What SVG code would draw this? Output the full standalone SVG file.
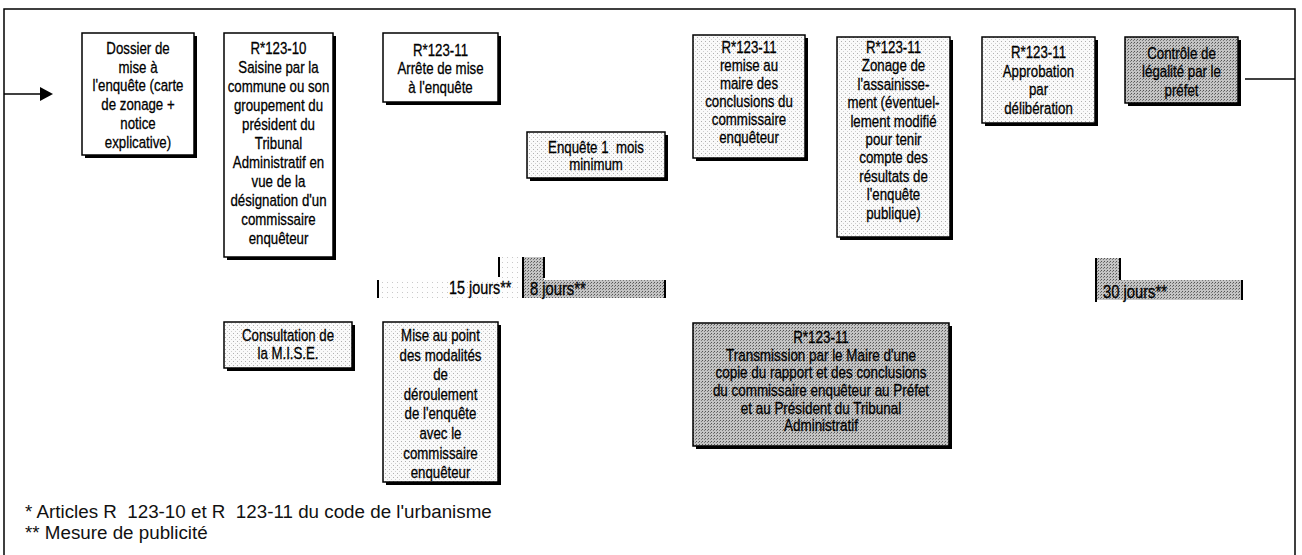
<svg xmlns="http://www.w3.org/2000/svg" width="1302" height="555" viewBox="0 0 1302 555">
<defs>
<pattern id="light" width="4" height="4" patternUnits="userSpaceOnUse">
<rect width="4" height="4" fill="#fafafa"/>
<rect x="1" y="1" width="1" height="1" fill="#b0b0b0"/>
<rect x="3" y="3" width="1" height="1" fill="#d0d0d0"/>
</pattern>
<pattern id="vlight" width="5" height="5" patternUnits="userSpaceOnUse">
<rect width="5" height="5" fill="#fdfdfd"/>
<rect x="2" y="2" width="1" height="1" fill="#c8c8c8"/>
</pattern>
<pattern id="dark" width="3" height="3" patternUnits="userSpaceOnUse">
<rect width="3" height="3" fill="#c4c4c4"/>
<rect x="0" y="0" width="1" height="1" fill="#555"/>
<rect x="2" y="1" width="1" height="1" fill="#7a7a7a"/>
</pattern>
</defs>
<style>
.t{font-family:"Liberation Sans",Arial,sans-serif;font-size:17px;text-anchor:middle;fill:#000;stroke:#000;stroke-width:0.3}
.s{font-family:"Liberation Sans",Arial,sans-serif;font-size:18px;fill:#000;stroke:#000;stroke-width:0.3}
.f{font-family:"Liberation Sans",Arial,sans-serif;font-size:18.8px;fill:#111}
.b{stroke:#000;stroke-width:1.5}
.w{fill:#fff}
.l{fill:url(#light)}
.d{fill:url(#dark)}
.sh{fill:#000}
.ln{stroke:#000;stroke-width:1.5;fill:none}
.tk{stroke:#000;stroke-width:2}
</style>
<rect width="1302" height="555" fill="#fff"/>
<g id="connectors">
<path class="ln" d="M4 555 V9 H1295 V555"/>
<line class="ln" x1="4" y1="94" x2="44" y2="94"/>
<polygon points="40,87 53,94 40,101" fill="#000"/>
<line class="ln" x1="1245" y1="79" x2="1295" y2="79"/>
</g>
<g id="dossier">
<rect class="sh" x="85" y="36" width="112" height="122"/>
<rect class="b w" x="82" y="33" width="112" height="122"/>
<text class="t" transform="translate(138 0) scale(.78 1)"><tspan x="0" y="54">Dossier de</tspan><tspan x="0" y="73">mise à</tspan><tspan x="0" y="91">l'enquête (carte</tspan><tspan x="0" y="110">de zonage +</tspan><tspan x="0" y="129">notice</tspan><tspan x="0" y="148">explicative)</tspan></text>
</g>
<g id="saisine">
<rect class="sh" x="227" y="36" width="109" height="224"/>
<rect class="b w" x="224" y="33" width="109" height="224"/>
<text class="t" transform="translate(278.5 0) scale(.78 1)"><tspan x="0" y="54">R*123-10</tspan><tspan x="0" y="73">Saisine par la</tspan><tspan x="0" y="92">commune ou son</tspan><tspan x="0" y="111">groupement du</tspan><tspan x="0" y="130">président du</tspan><tspan x="0" y="149">Tribunal</tspan><tspan x="0" y="168">Administratif en</tspan><tspan x="0" y="187">vue de la</tspan><tspan x="0" y="206">désignation d'un</tspan><tspan x="0" y="225">commissaire</tspan><tspan x="0" y="244">enquêteur</tspan></text>
</g>
<g id="arrete">
<rect class="sh" x="386" y="36" width="115" height="69"/>
<rect class="b w" x="383" y="33" width="115" height="69"/>
<text class="t" transform="translate(440.5 0) scale(.78 1)"><tspan x="0" y="56">R*123-11</tspan><tspan x="0" y="74">Arrête de mise</tspan><tspan x="0" y="93">à l'enquête</tspan></text>
</g>
<g id="enquete">
<rect class="sh" x="530" y="135" width="138" height="46"/>
<rect class="b l" x="527" y="132" width="138" height="46"/>
<text class="t" xml:space="preserve" transform="translate(596 0) scale(.78 1)"><tspan x="0" y="153">Enquête 1  mois</tspan><tspan x="0" y="170">minimum</tspan></text>
</g>
<g id="remise">
<rect class="sh" x="696" y="38" width="112" height="123"/>
<rect class="b l" x="693" y="35" width="112" height="123"/>
<text class="t" transform="translate(749 0) scale(.78 1)"><tspan x="0" y="53">R*123-11</tspan><tspan x="0" y="71">remise au</tspan><tspan x="0" y="89">maire des</tspan><tspan x="0" y="107">conclusions du</tspan><tspan x="0" y="125">commissaire</tspan><tspan x="0" y="143">enquêteur</tspan></text>
</g>
<g id="zonage">
<rect class="sh" x="840" y="40" width="113" height="200"/>
<rect class="b l" x="837" y="37" width="113" height="200"/>
<text class="t" transform="translate(893.5 0) scale(.78 1)"><tspan x="0" y="53">R*123-11</tspan><tspan x="0" y="71.4">Zonage de</tspan><tspan x="0" y="89.8">l'assainisse-</tspan><tspan x="0" y="108.2">ment (éventuel-</tspan><tspan x="0" y="126.6">lement modifié</tspan><tspan x="0" y="145">pour tenir</tspan><tspan x="0" y="163.4">compte des</tspan><tspan x="0" y="181.8">résultats de</tspan><tspan x="0" y="200.2">l'enquête</tspan><tspan x="0" y="218.6">publique)</tspan></text>
</g>
<g id="approbation">
<rect class="sh" x="985" y="40" width="113" height="86"/>
<rect class="b l" x="982" y="37" width="113" height="86"/>
<text class="t" transform="translate(1038.5 0) scale(.78 1)"><tspan x="0" y="58">R*123-11</tspan><tspan x="0" y="77">Approbation</tspan><tspan x="0" y="95">par</tspan><tspan x="0" y="114">délibération</tspan></text>
</g>
<g id="controle">
<rect class="sh" x="1128" y="40" width="113" height="66"/>
<rect class="b d" x="1125" y="37" width="113" height="66"/>
<text class="t" transform="translate(1181.5 0) scale(.78 1)"><tspan x="0" y="59">Contrôle de</tspan><tspan x="0" y="77">légalité par le</tspan><tspan x="0" y="96">préfet</tspan></text>
</g>
<g id="delai15">
<rect x="378" y="280" width="121" height="18" fill="url(#vlight)"/>
<rect x="499" y="257" width="24" height="41" fill="url(#vlight)"/>
<line class="tk" x1="378" y1="280" x2="378" y2="298"/>
<line class="tk" x1="499" y1="257" x2="499" y2="277"/>
<text class="s" transform="translate(449 0) scale(.8 1)" x="0" y="294">15 jours**</text>
</g>
<g id="delai8">
<rect x="523" y="257" width="21" height="41" fill="url(#dark)"/>
<rect x="544" y="280" width="121" height="18" fill="url(#dark)"/>
<line class="tk" x1="523" y1="257" x2="523" y2="298"/>
<line class="tk" x1="544" y1="257" x2="544" y2="278"/>
<line class="tk" x1="665" y1="280" x2="665" y2="298"/>
<text class="s" transform="translate(530 0) scale(.82 1)" x="0" y="295">8 jours**</text>
</g>
<g id="delai30">
<rect x="1096" y="258" width="24" height="42" fill="url(#dark)"/>
<rect x="1120" y="280" width="122" height="20" fill="url(#dark)"/>
<line class="tk" x1="1096" y1="258" x2="1096" y2="302"/>
<line class="tk" x1="1120" y1="258" x2="1120" y2="280"/>
<line class="tk" x1="1242" y1="280" x2="1242" y2="300"/>
<text class="s" transform="translate(1103 0) scale(.82 1)" x="0" y="298">30 jours**</text>
</g>
<g id="consultation">
<rect class="sh" x="227" y="325" width="128" height="46"/>
<rect class="b l" x="224" y="322" width="128" height="46"/>
<text class="t" transform="translate(288 0) scale(.78 1)"><tspan x="0" y="341">Consultation de</tspan><tspan x="0" y="359">la M.I.S.E.</tspan></text>
</g>
<g id="miseaupoint">
<rect class="sh" x="386" y="325" width="115" height="160"/>
<rect class="b l" x="383" y="322" width="115" height="160"/>
<text class="t" transform="translate(440.5 0) scale(.78 1)"><tspan x="0" y="341">Mise au point</tspan><tspan x="0" y="360.6">des modalités</tspan><tspan x="0" y="380.2">de</tspan><tspan x="0" y="399.8">déroulement</tspan><tspan x="0" y="419.4">de l'enquête</tspan><tspan x="0" y="439">avec le</tspan><tspan x="0" y="458.6">commissaire</tspan><tspan x="0" y="478.2">enquêteur</tspan></text>
</g>
<g id="transmission">
<rect class="sh" x="696" y="326" width="256" height="123"/>
<rect class="b d" x="693" y="323" width="256" height="123"/>
<text class="t" transform="translate(821 0) scale(.79 1)"><tspan x="0" y="343">R*123-11</tspan><tspan x="0" y="361">Transmission par le Maire d'une</tspan><tspan x="0" y="378">copie du rapport et des conclusions</tspan><tspan x="0" y="396">du commissaire enquêteur au Préfet</tspan><tspan x="0" y="414">et au Président du Tribunal</tspan><tspan x="0" y="431">Administratif</tspan></text>
</g>
<g id="notes">
<text class="f" x="25" y="518" xml:space="preserve">* Articles R  123-10 et R  123-11 du code de l'urbanisme</text>
<text class="f" x="25" y="539">** Mesure de publicité</text>
</g>
</svg>
